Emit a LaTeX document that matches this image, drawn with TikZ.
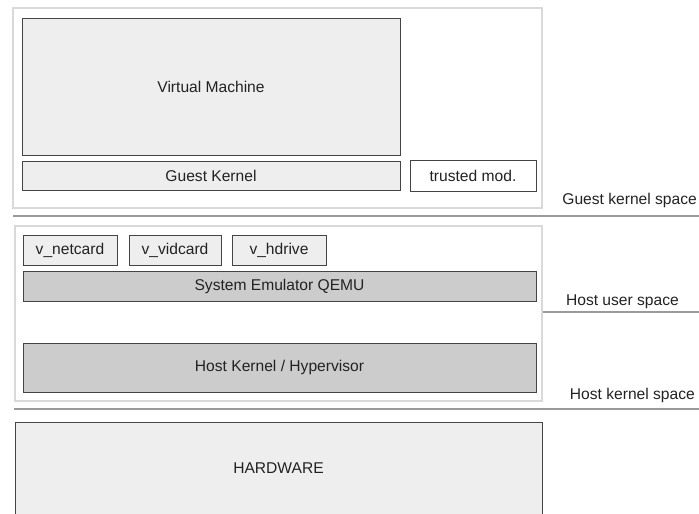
\documentclass[tikz,border=0pt]{standalone}
\usepackage{fontspec}
\setmainfont{Liberation Sans}
\usepackage{tikz}

\definecolor{boxlight}{HTML}{EEEEEE}
\definecolor{boxdark}{HTML}{CCCCCC}
\definecolor{edgedark}{HTML}{444444}
\definecolor{edgelight}{HTML}{D9D9D9}
\definecolor{sepline}{HTML}{9A9A9A}
\definecolor{txt}{HTML}{222222}

\tikzset{
    layer/.style={draw=edgelight, line width=1.2pt, inner sep=0pt},
    part/.style={draw=edgedark, line width=1pt, inner sep=0pt, text=txt,
        font=\fontsize{15.6}{18}\selectfont},
    spacelabel/.style={text=txt, inner sep=0pt, anchor=east,
        font=\fontsize{15.6}{18}\selectfont},
    sep/.style={draw=sepline, line width=1.4pt}
}

\begin{document}
\begin{tikzpicture}[x=1pt,y=-1pt]
    \useasboundingbox (0,0) rectangle (699,514);
    \clip (0,0) rectangle (699,514);

    % Guest layer
    \node[layer, minimum width=529pt, minimum height=200pt] (guest) at (277.5,108) {};
    \node[part, fill=boxlight, minimum width=378pt, minimum height=137pt] (vm) at (211,86.5) {Virtual Machine};
    \node[part, fill=boxlight, minimum width=378pt, minimum height=29pt] (gkernel) at (211,175.5) {Guest Kernel};
    \node[part, fill=white, minimum width=126pt, minimum height=31pt] (trusted) at (473,175.5) {trusted mod.};
    \node[spacelabel] (guestspace) at (697,200) {Guest kernel space};
    \draw[sep] (13,216) -- (699,216);

    % Host layer
    \node[layer, minimum width=527pt, minimum height=175pt] (host) at (278.5,313.5) {};
    \node[part, fill=boxlight, minimum width=94pt, minimum height=30pt] (netcard) at (70,250) {v\_netcard};
    \node[part, fill=boxlight, minimum width=92pt, minimum height=30pt] (vidcard) at (175,250) {v\_vidcard};
    \node[part, fill=boxlight, minimum width=94pt, minimum height=30pt] (hdrive) at (279,250) {v\_hdrive};
    \node[part, fill=boxdark, minimum width=513pt, minimum height=30pt] (qemu) at (279.5,286) {System Emulator QEMU};
    \node[part, fill=boxdark, minimum width=513pt, minimum height=49pt] (hkernel) at (279.5,367.5) {Host Kernel / Hypervisor};
    \node[spacelabel] (userspace) at (679,302) {Host user space};
    \coordinate (useredge) at (699,312);
    \draw[sep] (host.east |- useredge) -- (useredge);
    \node[spacelabel] (kernelspace) at (695,395) {Host kernel space};
    \draw[sep] (14,409) -- (699,409);

    % Hardware
    \node[part, fill=boxlight, minimum width=527pt, minimum height=98pt] (hardware) at (278.5,471) {};
    \node[text=txt, font=\fontsize{15.6}{18}\selectfont] (hwlabel) at (278.5,468) {HARDWARE};
\end{tikzpicture}
\end{document}
